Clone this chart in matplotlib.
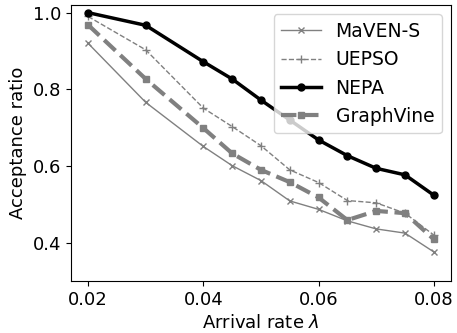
import matplotlib
matplotlib.use("Agg")
from matplotlib import pyplot as plt

arrival_rate = [0.02, 0.03, 0.04, 0.045, 0.05, 0.055, 0.06, 0.065, 0.07, 0.075, 0.08]
maven_s = [0.920, 0.766, 0.651, 0.601, 0.562, 0.509, 0.487, 0.457, 0.436, 0.425, 0.376]
uepso = [0.990, 0.903, 0.751, 0.703, 0.653, 0.590, 0.557, 0.510, 0.504, 0.477, 0.420]
nepa = [1.000, 0.967, 0.872, 0.827, 0.772, 0.720, 0.668, 0.627, 0.594, 0.577, 0.524]
graphvine = [0.968, 0.827, 0.699, 0.633, 0.590, 0.558, 0.518, 0.459, 0.483, 0.477, 0.409]

fig = plt.figure(figsize=(4.57, 3.33), dpi=100)
ax = fig.add_subplot(111)
fig.subplots_adjust(left=0.155, right=0.987, top=0.985, bottom=0.156)

ax.plot(arrival_rate, maven_s, color="gray", linestyle="-", linewidth=1, marker="x", markersize=5, label="MaVEN-S")
ax.plot(arrival_rate, uepso, color="gray", linestyle="--", linewidth=1, marker="+", markersize=6, label="UEPSO")
ax.plot(arrival_rate, nepa, color="black", linestyle="-", linewidth=2.5, marker="o", markersize=5, label="NEPA")
ax.plot(arrival_rate, graphvine, color="gray", linestyle="--", linewidth=3, marker="s", markersize=5, label="GraphVine")

ax.set_ylim(0.3, 1.02)
ax.set_xticks([0.02, 0.04, 0.06, 0.08])
ax.set_yticks([0.4, 0.6, 0.8, 1.0])
ax.tick_params(labelsize=13)
ax.set_xlabel(r"Arrival rate $\lambda$", fontsize=13)
ax.set_ylabel("Acceptance ratio", fontsize=13)
ax.legend(loc="upper right", fontsize=13.5, handlelength=2.1)

fig.savefig("out.png", dpi=100)
